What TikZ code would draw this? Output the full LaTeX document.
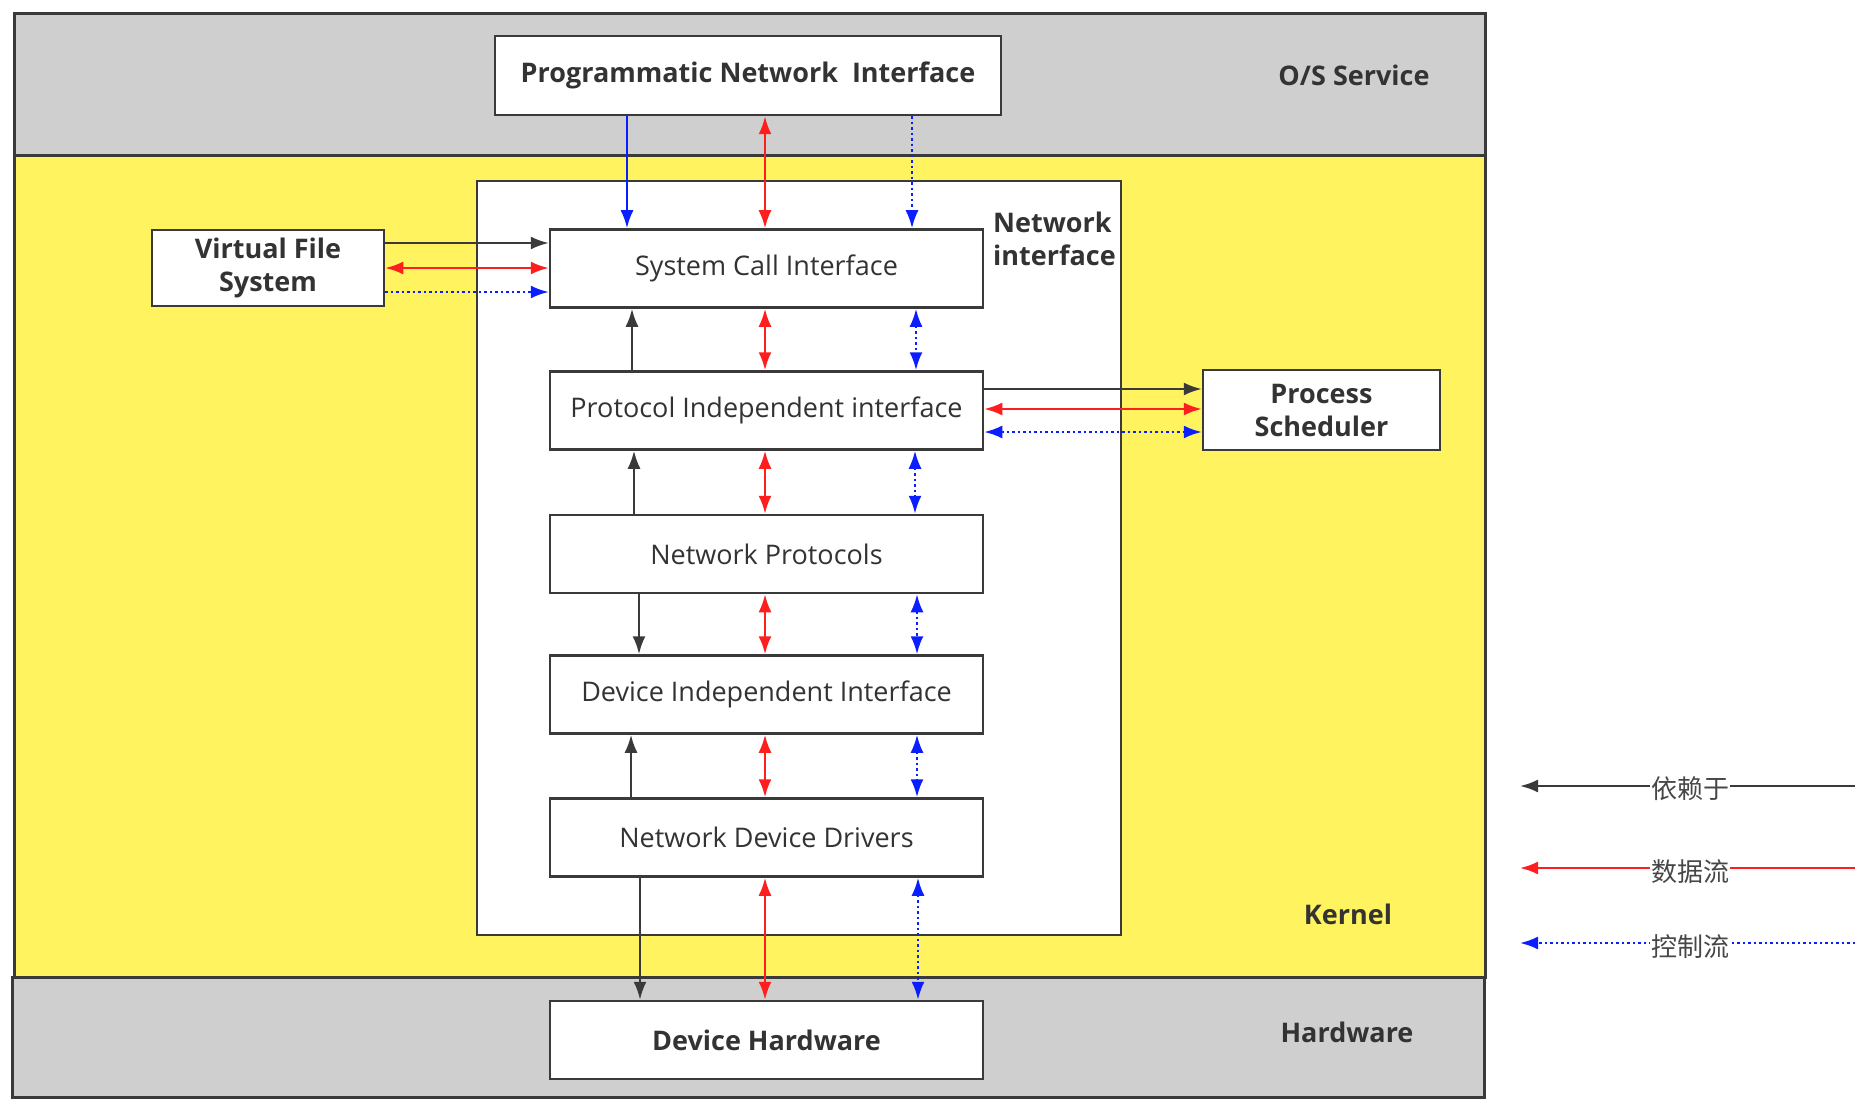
\documentclass[tikz,border=0pt]{standalone}
\usepackage{fontspec}
\setmainfont{Open Sans}
\newfontfamily\cjk{Noto Sans CJK SC}
\usetikzlibrary{arrows.meta}
\definecolor{bandgray}{HTML}{CFCFCF}
\definecolor{kyellow}{HTML}{FFF35F}
\definecolor{edge}{HTML}{3A3A3A}
\definecolor{txt}{HTML}{333333}
\definecolor{ared}{HTML}{FF1E1E}
\definecolor{ablue}{HTML}{0A1EFF}
\begin{document}
\begin{tikzpicture}[x=1pt,y=-1pt,
 band/.style={draw=edge, line width=3pt},
 box/.style={draw=edge, line width=2.5pt, fill=white, minimum width=433pt, minimum height=78pt, inner sep=0pt, text=txt, font=\fontsize{27}{32}\selectfont},
 bbox/.style={box, font=\bfseries\fontsize{27}{32}\selectfont},
 lbl/.style={text=txt, inner sep=0pt, font=\bfseries\fontsize{27}{33}\selectfont},
 dep/.style={draw=edge, line width=2.3pt, -{Latex[length=18pt,width=13pt]}},
 dat/.style={draw=ared, line width=2.3pt, {Latex[length=18pt,width=13pt]}-{Latex[length=18pt,width=13pt]}},
 datone/.style={draw=ared, line width=2.3pt, -{Latex[length=18pt,width=13pt]}},
 ctl/.style={draw=ablue, line width=2.3pt, dash pattern=on 2.5pt off 3pt, {Latex[length=18pt,width=13pt]}-{Latex[length=18pt,width=13pt]}},
 ctlone/.style={draw=ablue, line width=2.3pt, dash pattern=on 2.5pt off 3pt, -{Latex[length=18pt,width=13pt]}},
 ctlsolid/.style={draw=ablue, line width=2.3pt, -{Latex[length=18pt,width=13pt]}},
 legtxt/.style={fill=white, inner sep=1pt, text=txt!90!white, font=\cjk\fontsize{26}{30}\selectfont}
]
\useasboundingbox (0,0) rectangle (1866,1110);

% bands
\path[band, fill=bandgray] (14,14) rectangle (1485,156);
\path[band, fill=kyellow] (14,156) rectangle (1485,977);
\path[band, fill=bandgray] (12,977) rectangle (1484,1097);
\path[draw=edge, line width=2.5pt, fill=white] (477,181) rectangle (1121,935);

% nodes
\node[bbox, minimum width=506pt, minimum height=79pt] (pni) at (748,75.5) {Programmatic Network\ \ Interface};
\node[bbox, minimum width=232pt, minimum height=76pt, align=center, font=\bfseries\fontsize{27}{33}\selectfont] (vfs) at (268,268) {Virtual File\\System};
\node[box] (sci) at (766.5,268.5) {System Call Interface};
\node[box] (pii) at (766.5,410.5) {Protocol Independent interface};
\node[box] (np)  at (766.5,554) {Network Protocols};
\node[box] (dii) at (766.5,694.5) {Device Independent Interface};
\node[box] (ndd) at (766.5,837.5) {Network Device Drivers};
\node[bbox] (dh) at (766.5,1040) {Device Hardware};
\node[bbox, minimum width=237pt, minimum height=80pt, align=center, font=\bfseries\fontsize{27}{33}\selectfont] (ps) at (1321.5,410) {Process\\Scheduler};

\node[lbl] (os) at (1354,75) {O/S Service};
\node[lbl, align=left, anchor=west] (ni) at (993,239) {Network\\interface};
\node[lbl] (kern) at (1348,914) {Kernel};
\node[lbl] (hw) at (1347,1032) {Hardware};

% column / row coordinates
\coordinate (xr) at (765,0);
\coordinate (xb1) at (627,0);
\coordinate (xd1) at (912,0);
\coordinate (xk1) at (632,0);
\coordinate (xd2) at (916,0);
\coordinate (xk2) at (634,0);
\coordinate (xd3) at (915,0);
\coordinate (xk3) at (639,0);
\coordinate (xd4) at (917,0);
\coordinate (xk4) at (631,0);
\coordinate (xd5) at (917,0);
\coordinate (xk5) at (640,0);
\coordinate (xd6) at (918,0);
\coordinate (vk) at (0,243);
\coordinate (vr) at (0,268);
\coordinate (vb) at (0,292);
\coordinate (pk) at (0,389);
\coordinate (pr) at (0,409);
\coordinate (pb) at (0,432);

% PNI - SCI
\draw[ctlsolid] (pni.south -| xb1) -- (sci.north -| xb1);
\draw[dat] (pni.south -| xr) -- (sci.north -| xr);
\draw[ctlone] (pni.south -| xd1) -- (sci.north -| xd1);
% SCI - PII
\draw[dep] (pii.north -| xk1) -- (sci.south -| xk1);
\draw[dat] (sci.south -| xr) -- (pii.north -| xr);
\draw[ctl] (sci.south -| xd2) -- (pii.north -| xd2);
% PII - NP
\draw[dep] (np.north -| xk2) -- (pii.south -| xk2);
\draw[dat] (pii.south -| xr) -- (np.north -| xr);
\draw[ctl] (pii.south -| xd3) -- (np.north -| xd3);
% NP - DII
\draw[dep] (np.south -| xk3) -- (dii.north -| xk3);
\draw[dat] (np.south -| xr) -- (dii.north -| xr);
\draw[ctl] (np.south -| xd4) -- (dii.north -| xd4);
% DII - NDD
\draw[dep] (ndd.north -| xk4) -- (dii.south -| xk4);
\draw[dat] (dii.south -| xr) -- (ndd.north -| xr);
\draw[ctl] (dii.south -| xd5) -- (ndd.north -| xd5);
% NDD - DH
\draw[dep] (ndd.south -| xk5) -- (dh.north -| xk5);
\draw[dat] (ndd.south -| xr) -- (dh.north -| xr);
\draw[ctl] (ndd.south -| xd6) -- (dh.north -| xd6);
% VFS - SCI
\draw[dep] (vfs.east |- vk) -- (sci.west |- vk);
\draw[dat] (vfs.east |- vr) -- (sci.west |- vr);
\draw[ctlone] (vfs.east |- vb) -- (sci.west |- vb);
% PII - PS
\draw[dep] (pii.east |- pk) -- (ps.west |- pk);
\draw[dat] (pii.east |- pr) -- (ps.west |- pr);
\draw[ctl] (pii.east |- pb) -- (ps.west |- pb);

% legend
\coordinate (l1r) at (1855,786);
\coordinate (l1l) at (1520,786);
\coordinate (l2r) at (1855,868);
\coordinate (l2l) at (1520,868);
\coordinate (l3r) at (1855,943);
\coordinate (l3l) at (1520,943);
\draw[dep] (l1r) -- (l1l);
\draw[datone] (l2r) -- (l2l);
\draw[ctlone] (l3r) -- (l3l);
\node[legtxt] (lg1) at (1690,789) {依赖于};
\node[legtxt] (lg2) at (1690,872) {数据流};
\node[legtxt] (lg3) at (1690,947) {控制流};
\end{tikzpicture}
\end{document}
